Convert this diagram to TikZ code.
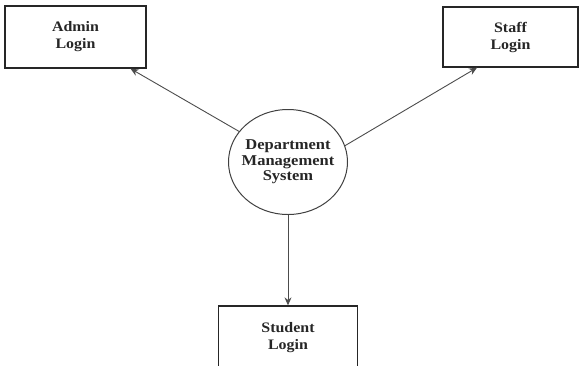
\documentclass[tikz,border=0pt]{standalone}
\usepackage{fontspec}
\setmainfont{Liberation Serif}[FakeStretch=1.1]
\usetikzlibrary{shapes.geometric,arrows.meta,calc}
\begin{document}
\begin{tikzpicture}[x=1pt,y=-1pt,
  entity/.style={draw=black!85,line width=1.3pt,rectangle,inner sep=0pt,align=center,
    font=\bfseries\fontsize{14.5}{17}\selectfont,text=black!85},
  proc/.style={draw=black!75,line width=1pt,ellipse,inner xsep=-10pt,inner ysep=0pt,align=center,
    minimum width=119pt,minimum height=105pt,
    font=\bfseries\fontsize{15}{15.5}\selectfont,text=black!85},
  flow/.style={draw=black!70,line width=0.9pt,-{Stealth[length=8pt,width=7pt]}}]
\useasboundingbox (0,0) rectangle (580,365);
\node[entity,minimum width=141pt,minimum height=62pt] (admin) at (75.5,37) {Admin\\Login};
\node[entity,minimum width=135pt,minimum height=60pt] (staff) at (510.5,37) {Staff\\Login};
\node[entity,minimum width=139pt,minimum height=64pt] (student) at (288,338) {Student\\Login};
\node[proc] (dms) at (288,162) {Department\\Management\\System};
\draw[flow] (dms.148) -- ($(admin.south)+(55,0)$);
\draw[flow] (dms.16) -- ($(staff.south)+(-33.5,0)$);
\draw[flow] (dms.south) -- (student.north);
\end{tikzpicture}
\end{document}
